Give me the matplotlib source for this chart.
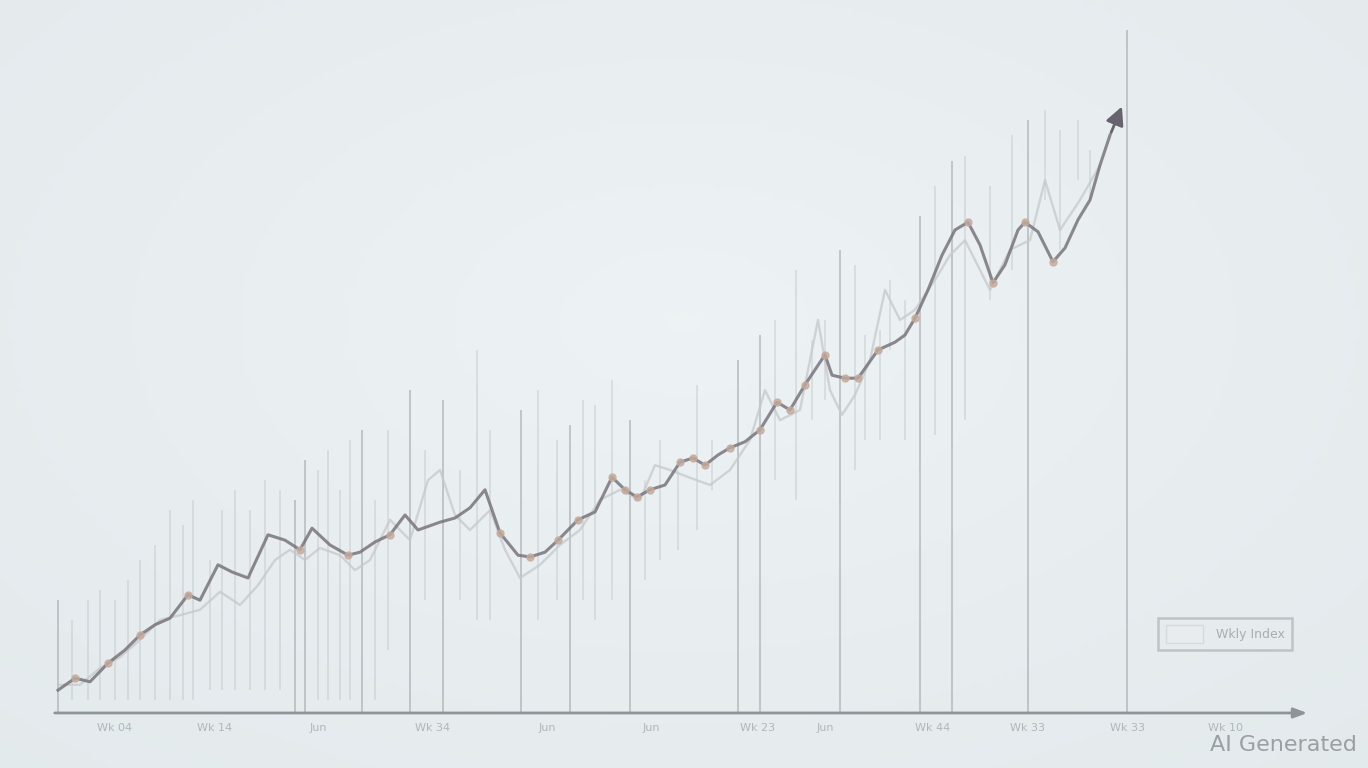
import matplotlib.pyplot as plt
import numpy as np
from matplotlib.patches import Patch

# main trend line (days, index value)
main_x = [0.3, 2.0, 3.5, 5.3, 7.0, 8.5, 10.0, 11.5, 13.3, 14.5, 16.3, 17.7, 19.3, 21.3, 23.0,
          24.5, 25.7, 27.5, 29.3, 30.5, 32.0, 33.5, 35.0, 36.3, 38.5, 40.0, 41.5, 43.0, 44.5,
          46.3, 47.5, 49.0, 50.3, 52.3, 54.0, 55.7, 57.0, 58.2, 59.5, 61.0, 62.5, 63.8, 65.0,
          66.3, 67.5, 69.0, 70.5, 72.2, 73.5, 75.0, 77.0, 77.7, 79.0, 80.3, 82.3, 84.0, 85.0,
          86.0, 87.3, 88.7, 90.0, 91.3, 92.5, 93.8, 95.0, 96.3, 97.0, 98.3, 99.8, 101.0, 102.3,
          103.5, 104.5, 105.5]
main_y = [3.8, 5.8, 5.2, 8.3, 10.5, 13.0, 14.7, 15.8, 19.7, 18.8, 24.7, 23.5, 22.5, 29.7, 28.8,
          27.2, 30.8, 28.0, 26.3, 26.8, 28.5, 29.7, 33.0, 30.5, 31.8, 32.5, 34.2, 37.2, 30.0,
          26.3, 26.0, 26.8, 28.8, 32.2, 33.5, 39.3, 37.2, 36.0, 37.2, 38.0, 41.8, 42.5, 41.3,
          43.0, 44.2, 45.2, 47.2, 51.8, 50.5, 54.7, 59.7, 56.3, 55.8, 55.8, 60.5, 61.8, 63.0,
          65.8, 70.5, 76.3, 80.5, 81.8, 78.0, 71.7, 74.7, 80.5, 81.8, 80.2, 75.2, 77.5, 82.2,
          85.5, 91.3, 96.3]
arrow_tip = (106.8, 101.5)
marker_idx = [1, 3, 5, 8, 15, 18, 21, 28, 30, 32, 33, 35, 36, 37, 38, 40, 41, 42, 44, 46, 47,
              48, 49, 50, 52, 53, 54, 57, 61, 63, 66, 68]

# lighter secondary line
sec_x = [0.5, 2.5, 4.5, 6.5, 8.5, 10.5, 12.5, 14.5, 16.5, 18.5, 20.3, 22.0, 23.5, 25.0, 26.5,
         28.5, 30.0, 31.5, 33.5, 35.5, 37.3, 38.5, 40.0, 41.5, 43.5, 45.0, 46.5, 48.5, 50.5,
         52.5, 54.5, 56.5, 58.5, 60.0, 61.5, 63.5, 65.5, 67.5, 69.5, 71.0, 72.5, 74.5, 76.3,
         77.5, 78.7, 80.0, 81.5, 83.0, 84.5, 86.0, 88.0, 89.5, 91.0, 93.5, 95.5, 97.5, 99.0,
         100.5, 102.5, 104.5]
sec_y = [4.7, 4.7, 7.5, 9.3, 12.2, 15.5, 16.3, 17.2, 20.2, 18.0, 21.3, 25.5, 27.2, 25.5, 27.5,
         26.3, 23.8, 25.5, 32.2, 28.8, 38.8, 40.5, 33.0, 30.5, 33.8, 27.2, 22.5, 24.7, 28.0,
         30.5, 35.5, 37.2, 35.5, 41.3, 40.5, 39.2, 38.0, 40.5, 45.5, 53.8, 48.8, 50.5, 65.5,
         53.8, 49.7, 53.0, 58.8, 70.5, 65.5, 67.2, 72.2, 76.3, 78.8, 70.5, 77.2, 78.8, 88.8,
         80.5, 85.5, 91.3]

# vertical range bars: x, top, bottom
bar_x = [0.3, 1.7, 3.3, 4.5, 6.0, 7.3, 8.5, 10.0, 11.5, 12.8, 13.8, 15.5, 16.7, 18.0, 19.5,
         21.0, 22.5, 24.0, 25.0, 26.3, 27.3, 28.5, 29.5, 30.7, 32.0, 33.3, 35.5, 37.0, 38.8,
         40.5, 42.2, 43.5, 46.6, 48.3, 50.2, 51.5, 52.8, 54.0, 55.7, 57.5, 59.0, 60.5, 62.3,
         64.2, 65.7, 68.3, 70.5, 72.0, 74.1, 75.7, 77.0, 78.5, 80.0, 81.0, 82.5, 83.5, 85.0,
         86.5, 88.0, 89.7, 91.0, 93.5, 95.7, 97.3, 99.0, 100.5, 102.3, 103.5, 107.2]
bar_top = [18.8, 15.5, 18.8, 20.5, 18.8, 22.2, 25.5, 28.0, 33.8, 31.3, 35.5, 25.5, 33.8, 37.2,
           33.8, 38.8, 37.2, 35.5, 42.2, 40.5, 43.8, 37.2, 45.5, 47.2, 35.5, 47.2, 53.8, 43.8,
           52.2, 40.5, 60.5, 47.2, 50.5, 53.8, 45.5, 48.0, 52.2, 51.3, 55.5, 48.8, 38.8, 45.5,
           40.5, 54.7, 45.5, 58.8, 63.0, 65.5, 73.8, 62.2, 65.5, 77.2, 74.7, 63.0, 63.8, 72.2,
           68.8, 82.8, 87.8, 92.0, 92.8, 87.8, 96.3, 98.8, 100.5, 97.2, 98.8, 93.8, 113.8]
bar_bot = [0, 2.2, 2.2, 2.2, 2.2, 2.2, 2.2, 2.2, 2.2, 2.2, 2.2, 3.8, 3.8, 3.8, 3.8,
           3.8, 3.8, 0, 0, 2.2, 2.2, 2.2, 2.2, 0, 2.2, 10.5, 0, 18.8, 0,
           18.8, 15.5, 15.5, 0, 15.5, 18.8, 0, 18.8, 15.5, 18.8, 0, 22.2, 25.5, 27.2,
           30.5, 37.2, 0, 0, 38.8, 35.5, 48.8, 52.2, 0, 40.5, 45.5, 45.5, 60.5, 45.5,
           0, 46.3, 0, 48.8, 68.8, 73.8, 0, 85.5, 77.2, 88.8, 85.5, 0]

tick_pos = [6.0, 16.0, 26.3, 37.8, 49.2, 59.6, 70.3, 77.0, 87.8, 97.3, 107.3, 117.1]
tick_labels = ['Wk 04', 'Wk 14', 'Jun', 'Wk 34', 'Jun', 'Jun', 'Wk 23', 'Jun',
               'Wk 44', 'Wk 33', 'Wk 33', 'Wk 10']

fig = plt.figure(figsize=(13.68, 7.68), dpi=100)
ax = fig.add_axes([0, 0, 1, 1])
ax.set_xlim(-5.5, 131.3)
ax.set_ylim(-9.17, 118.83)
ax.axis('off')

# soft background glow
gx, gy = np.meshgrid(np.linspace(0, 1, 300), np.linspace(0, 1, 170))
d = np.sqrt(((gx - 0.5) / 0.8) ** 2 + ((gy - 0.42) / 0.85) ** 2)
d = np.clip(d, 0, 1)
c_in = np.array([0.930, 0.950, 0.957])
c_out = np.array([0.890, 0.915, 0.925])
img = c_in[None, None, :] * (1 - d[..., None]) + c_out[None, None, :] * d[..., None]
ax.imshow(img, extent=[-5.5, 131.3, -9.17, 118.83], aspect='auto', zorder=0, origin='upper')

# vertical bars, the ones reaching the axis are darker
for x, t, b in zip(bar_x, bar_top, bar_bot):
    if b == 0:
        ax.vlines(x, b, t, color='#a4a9ae', lw=1.2, alpha=0.7, zorder=1)
    else:
        ax.vlines(x, b, t, color='#bcc0c4', lw=1.1, alpha=0.5, zorder=1)

ax.plot(sec_x, sec_y, color='#c6c8cc', lw=1.7, alpha=0.75, zorder=2)
ax.plot(main_x, main_y, color='#78747c', lw=2.2, alpha=0.85, zorder=3,
        solid_joinstyle='round')
ax.plot([main_x[i] for i in marker_idx], [main_y[i] for i in marker_idx], 'o',
        color='#c4aa9c', ms=5, alpha=0.8, zorder=4)
ax.annotate('', xy=arrow_tip, xytext=(main_x[-1], main_y[-1]),
            arrowprops=dict(arrowstyle='-|>,head_length=1.1,head_width=0.55',
                            color='#66626e', lw=2.0), zorder=5)

# x axis with arrow
ax.annotate('', xy=(125.5, 0), xytext=(-0.3, 0),
            arrowprops=dict(arrowstyle='-|>,head_length=0.8,head_width=0.3',
                            color='#8f9499', lw=2), zorder=5)
for p, lab in zip(tick_pos, tick_labels):
    ax.text(p, -2.5, lab, ha='center', va='center', fontsize=8, color='#b0b6ba')

# legend box
leg = ax.legend([Patch(facecolor='#e8ecee', edgecolor='#d6dadd')], ['Wkly Index'],
                loc='center', bbox_to_anchor=(1225 / 1368, 1 - 634 / 768),
                fontsize=9, frameon=True, fancybox=False, handlelength=3.0,
                handleheight=1.8, borderpad=0.6, handletextpad=1.0)
leg.get_frame().set_edgecolor('#b5b9bd')
leg.get_frame().set_linewidth(1.8)
leg.get_frame().set_facecolor('#e7ebed')
for t in leg.get_texts():
    t.set_color('#a8aeb3')

fig.text(1357 / 1368, 1 - 745 / 768, 'AI Generated', ha='right', va='center',
         fontsize=16, color='#9a9fa3')

fig.savefig('out.png', dpi=100)
